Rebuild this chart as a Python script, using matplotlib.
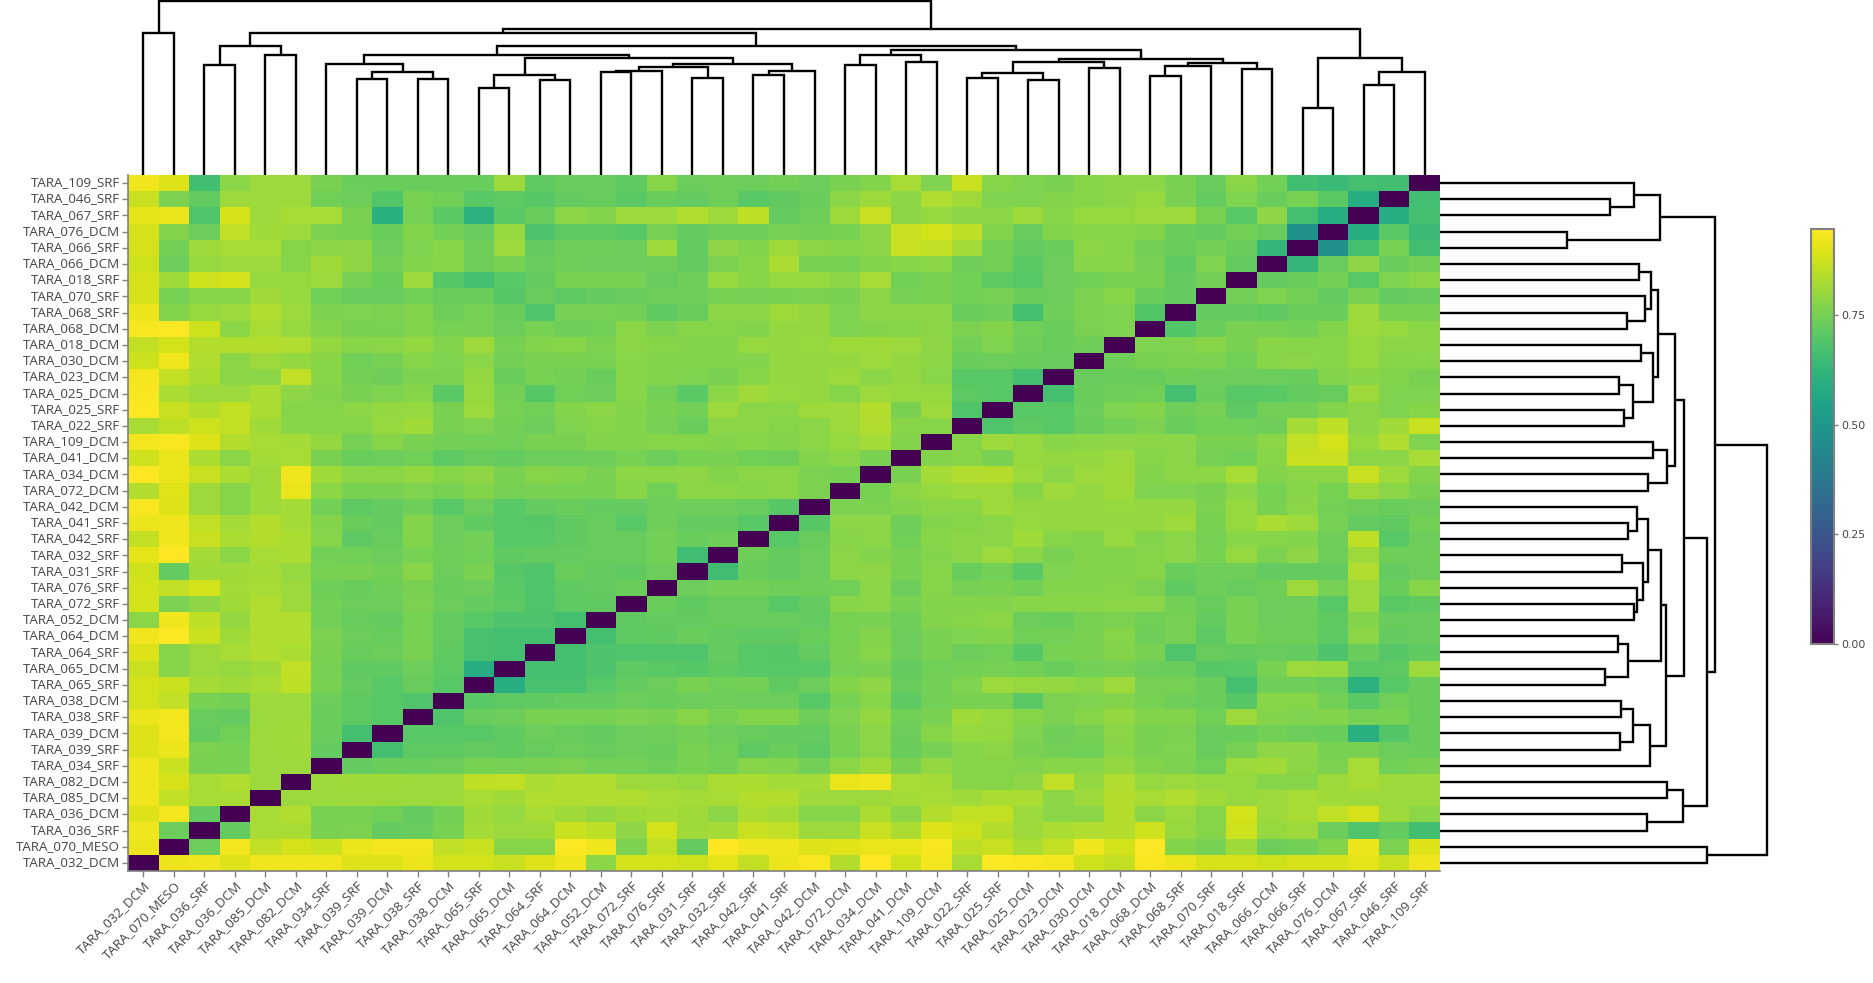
import numpy as np
import matplotlib
matplotlib.use("Agg")
import matplotlib.pyplot as plt
from matplotlib.colors import Normalize
from matplotlib.cm import ScalarMappable
from matplotlib.transforms import ScaledTranslation

W, H = 1874, 983
plt.rcParams['font.family'] = ['Open Sans', 'DejaVu Sans']

labels = ["TARA_032_DCM","TARA_070_MESO","TARA_036_SRF","TARA_036_DCM","TARA_085_DCM","TARA_082_DCM",
"TARA_034_SRF","TARA_039_SRF","TARA_039_DCM","TARA_038_SRF","TARA_038_DCM","TARA_065_SRF","TARA_065_DCM",
"TARA_064_SRF","TARA_064_DCM","TARA_052_DCM","TARA_072_SRF","TARA_076_SRF","TARA_031_SRF","TARA_032_SRF",
"TARA_042_SRF","TARA_041_SRF","TARA_042_DCM","TARA_072_DCM","TARA_034_DCM","TARA_041_DCM","TARA_109_DCM",
"TARA_022_SRF","TARA_025_SRF","TARA_025_DCM","TARA_023_DCM","TARA_030_DCM","TARA_018_DCM","TARA_068_DCM",
"TARA_068_SRF","TARA_070_SRF","TARA_018_SRF","TARA_066_DCM","TARA_066_SRF","TARA_076_DCM","TARA_067_SRF",
"TARA_046_SRF","TARA_109_SRF"]

# distance of each sample to the samples after it (the matrix is symmetric, zero diagonal)
upper = [
[.92,.925,.895,.925,.925,.925,.895,.895,.92,.88,.88,.865,.895,.925,.782,.88,.88,.875,.908,.86,.92,.935,.837,.945,.875,.93,.822,.94,.935,.93,.875,.86,.935,.92,.885,.885,.875,.885,.885,.908,.865,.925],
[.735,.93,.855,.885,.87,.92,.93,.93,.855,.87,.773,.773,.94,.925,.76,.855,.72,.945,.925,.925,.895,.90,.915,.915,.935,.85,.865,.827,.86,.925,.88,.94,.769,.752,.812,.735,.745,.769,.92,.76,.895],
[.72,.822,.822,.756,.76,.72,.725,.752,.817,.802,.807,.87,.85,.787,.88,.812,.817,.865,.855,.807,.807,.865,.827,.895,.875,.837,.807,.827,.832,.837,.875,.797,.773,.875,.797,.807,.735,.685,.72,.66],
[.822,.832,.752,.752,.74,.72,.745,.812,.797,.822,.812,.792,.812,.817,.812,.782,.827,.817,.773,.773,.827,.782,.837,.86,.86,.802,.782,.782,.837,.782,.802,.773,.88,.807,.822,.855,.885,.807,.782],
[.802,.802,.807,.807,.802,.807,.822,.812,.832,.832,.832,.832,.822,.817,.822,.837,.837,.807,.807,.807,.817,.822,.812,.827,.827,.782,.807,.837,.822,.832,.812,.797,.807,.822,.812,.807,.802,.802],
[.802,.812,.812,.807,.802,.85,.855,.827,.832,.832,.807,.802,.797,.827,.827,.817,.817,.915,.925,.822,.817,.777,.773,.787,.855,.792,.832,.797,.802,.797,.797,.773,.773,.807,.822,.807,.802],
[.72,.73,.73,.735,.752,.748,.756,.76,.745,.745,.738,.752,.745,.773,.769,.745,.782,.812,.756,.792,.773,.773,.769,.777,.777,.792,.769,.76,.74,.802,.812,.782,.76,.822,.74,.756],
[.665,.71,.71,.72,.715,.725,.735,.725,.735,.73,.756,.74,.71,.73,.71,.752,.782,.73,.748,.773,.782,.756,.745,.74,.777,.756,.764,.725,.748,.787,.787,.752,.756,.735,.73],
[.70,.70,.70,.715,.735,.725,.72,.735,.738,.745,.735,.725,.72,.72,.756,.782,.735,.773,.797,.792,.764,.738,.748,.782,.756,.76,.725,.73,.745,.735,.73,.60,.69,.73],
[.685,.725,.735,.756,.752,.752,.76,.756,.777,.752,.769,.769,.738,.764,.792,.74,.756,.812,.797,.773,.76,.773,.792,.769,.769,.74,.807,.769,.764,.769,.748,.752,.73],
[.70,.71,.715,.72,.72,.735,.73,.735,.738,.735,.735,.70,.752,.773,.71,.745,.756,.756,.705,.76,.764,.769,.752,.738,.73,.695,.777,.773,.745,.705,.74,.73],
[.59,.67,.67,.70,.72,.735,.756,.74,.745,.715,.735,.769,.787,.725,.745,.764,.802,.797,.792,.782,.807,.748,.748,.73,.665,.738,.738,.725,.605,.70,.73],
[.665,.665,.68,.71,.705,.695,.715,.70,.70,.70,.748,.756,.72,.74,.745,.748,.745,.73,.745,.748,.735,.73,.695,.70,.752,.802,.797,.705,.71,.802],
[.665,.68,.685,.685,.685,.72,.70,.695,.72,.756,.773,.735,.756,.735,.74,.695,.752,.756,.769,.752,.685,.725,.72,.725,.72,.68,.73,.695,.715],
[.665,.71,.715,.73,.72,.715,.715,.73,.752,.769,.735,.756,.764,.769,.74,.745,.756,.773,.738,.748,.71,.752,.738,.738,.71,.782,.72,.725],
[.715,.72,.72,.725,.725,.725,.72,.752,.756,.738,.769,.773,.782,.735,.73,.752,.76,.74,.748,.72,.752,.735,.738,.715,.769,.725,.725],
[.73,.715,.725,.725,.70,.72,.777,.782,.752,.769,.769,.769,.777,.777,.777,.782,.782,.745,.725,.752,.735,.735,.70,.807,.705,.715],
[.735,.745,.745,.738,.738,.74,.782,.735,.773,.748,.756,.745,.769,.769,.773,.76,.715,.738,.725,.738,.807,.748,.802,.73,.773],
[.655,.73,.72,.735,.782,.787,.752,.773,.73,.745,.705,.764,.769,.769,.773,.73,.738,.738,.72,.72,.72,.832,.72,.735],
[.738,.72,.735,.782,.769,.756,.769,.782,.802,.782,.756,.769,.769,.773,.782,.752,.797,.76,.787,.738,.807,.738,.738],
[.70,.725,.777,.782,.74,.777,.782,.782,.812,.773,.769,.797,.769,.782,.748,.777,.773,.769,.738,.85,.70,.735],
[.695,.782,.782,.738,.769,.773,.782,.797,.792,.792,.792,.792,.807,.756,.797,.827,.807,.748,.72,.715,.745],
[.76,.76,.769,.782,.782,.807,.792,.792,.792,.797,.792,.792,.76,.797,.756,.782,.745,.738,.73,.735],
[.752,.782,.797,.807,.807,.773,.807,.792,.812,.764,.764,.756,.782,.752,.777,.752,.807,.782,.756],
[.756,.817,.832,.837,.802,.782,.802,.812,.769,.782,.782,.822,.769,.782,.782,.865,.807,.769],
[.769,.777,.756,.797,.792,.792,.802,.773,.782,.748,.74,.777,.865,.865,.782,.782,.822],
[.773,.807,.797,.777,.782,.787,.782,.782,.756,.756,.782,.855,.88,.797,.832,.764],
[.685,.71,.70,.73,.745,.76,.73,.74,.74,.738,.817,.85,.782,.812,.865],
[.70,.70,.735,.764,.769,.738,.748,.71,.745,.745,.769,.782,.764,.773],
[.665,.73,.738,.74,.665,.73,.70,.705,.72,.725,.807,.764,.764],
[.725,.73,.73,.738,.735,.735,.735,.73,.769,.777,.769,.756],
[.738,.756,.76,.76,.74,.777,.782,.777,.797,.773,.777],
[.764,.764,.777,.756,.777,.773,.777,.797,.782,.782],
[.69,.73,.756,.748,.745,.769,.807,.797,.782],
[.72,.72,.715,.73,.73,.807,.756,.756],
[.745,.764,.745,.72,.756,.72,.725],
[.72,.73,.745,.70,.764,.782],
[.625,.725,.787,.73,.745],
[.475,.665,.752,.66],
[.59,.705,.64],
[.585,.665],
[.66],
]

# hierarchical clustering: (left, right, merge height); ints are leaves in label order
cluster_a = ((2, 3, 206.7), (4, 5, 226.7), 243.3)
cluster_b = ((6, ((7, 8, 180.0), (9, 10, 180.7), 193.3), 210.0),
             (((11, 12, 164.7), (13, 14, 178.3), 188.3),
              ((((15, 16, 194.0), 17, 196.7), (18, 19, 182.0), 203.3),
               ((20, 21, 188.3), 22, 196.7), 208.3), 220.7), 226.0)
cluster_c = (((23, 24, 208.0), (25, 26, 213.3), 226.7),
             ((((27, 28, 183.7), (29, 30, 179.3), 192.7), (31, 32, 201.0), 212.7),
              (((33, 34, 187.3), 35, 205.0), (36, 37, 199.0), 210.7), 218.3), 235.3)
cluster_d = ((38, 39, 127.0), ((40, 41, 170.0), 42, 194.0), 220.0)
tree = ((0, 1, 267.0),
        ((cluster_a, (cluster_b, cluster_c, 244.0), 267.0), cluster_d, 274.7),
        327.3)

segments = []
def walk(node):
    """Returns (leaf position, height) and records the U-shaped link of every merge."""
    if isinstance(node, int):
        return node + 0.5, 0.0
    a, b, h = node
    pa, ha = walk(a)
    pb, hb = walk(b)
    segments.append(([pa, pa, pb, pb], [ha, h, h, hb]))
    return (pa + pb) / 2, h
walk(tree)

n = len(labels)
m = np.zeros((n, n))
for i, r in enumerate(upper):
    for k, v in enumerate(r):
        m[i, i + 1 + k] = m[i + 1 + k, i] = v

zmax = 0.946
fig = plt.figure(figsize=(W / 100, H / 100), dpi=100, facecolor='white')
def box(x0, y0, x1, y1):
    return fig.add_axes([x0 / W, 1 - y1 / H, (x1 - x0) / W, (y1 - y0) / H])

L, R, T, B = 128, 1440, 175, 871
GREY = '#808080'
TXT = '#444444'

ax = box(L, T, R, B)
ax.pcolormesh(np.arange(n + 1), np.arange(n + 1), m, cmap='viridis', vmin=0, vmax=zmax, linewidth=0, antialiased=False)
ax.set_xlim(0, n); ax.set_ylim(0, n)
ax.set_xticks(np.arange(n) + .5)
ax.set_yticks(np.arange(n) + .5)
ax.set_xticklabels(labels, rotation=45, ha='right', va='top', rotation_mode='anchor', fontsize=9.6, color=TXT)
ax.set_yticklabels(labels, fontsize=9.6, color=TXT)
ax.tick_params(axis='both', length=4, width=1, color=GREY, pad=1.5)
shift = ScaledTranslation(0, 1.8 / 100, fig.dpi_scale_trans)
for lab in ax.get_yticklabels():
    lab.set_transform(lab.get_transform() + shift)
for s in ('top', 'right'):
    ax.spines[s].set_visible(False)
for s in ('left', 'bottom'):
    ax.spines[s].set_color(GREY); ax.spines[s].set_linewidth(1.2)

lw = 1.7
top = box(L, 1.3, R, T)
for xs, ys in segments:
    top.plot(xs, ys, color='black', lw=lw, solid_joinstyle='miter', solid_capstyle='butt', clip_on=False)
top.set_xlim(0, n); top.set_ylim(0, 327.3)
top.axis('off')

right = box(R, T, R + 327.3, B)
for xs, ys in segments:
    right.plot(ys, xs, color='black', lw=lw, solid_joinstyle='miter', solid_capstyle='butt', clip_on=False)
right.set_ylim(0, n); right.set_xlim(0, 327.3)
right.axis('off')

cax = box(1811, 229, 1834, 644)
cb = fig.colorbar(ScalarMappable(Normalize(0, zmax), 'viridis'), cax=cax)
cb.set_ticks([0, .25, .5, .75])
cb.set_ticklabels(['0.00', '0.25', '0.50', '0.75'])
cb.ax.tick_params(length=3, width=1, color=GREY, labelsize=7.8, labelcolor=TXT, pad=2)
for lab in cb.ax.get_yticklabels():
    lab.set_family('DejaVu Sans')
cb.outline.set_edgecolor(GREY); cb.outline.set_linewidth(1.5)

fig.savefig('out.png', dpi=100, facecolor='white')
